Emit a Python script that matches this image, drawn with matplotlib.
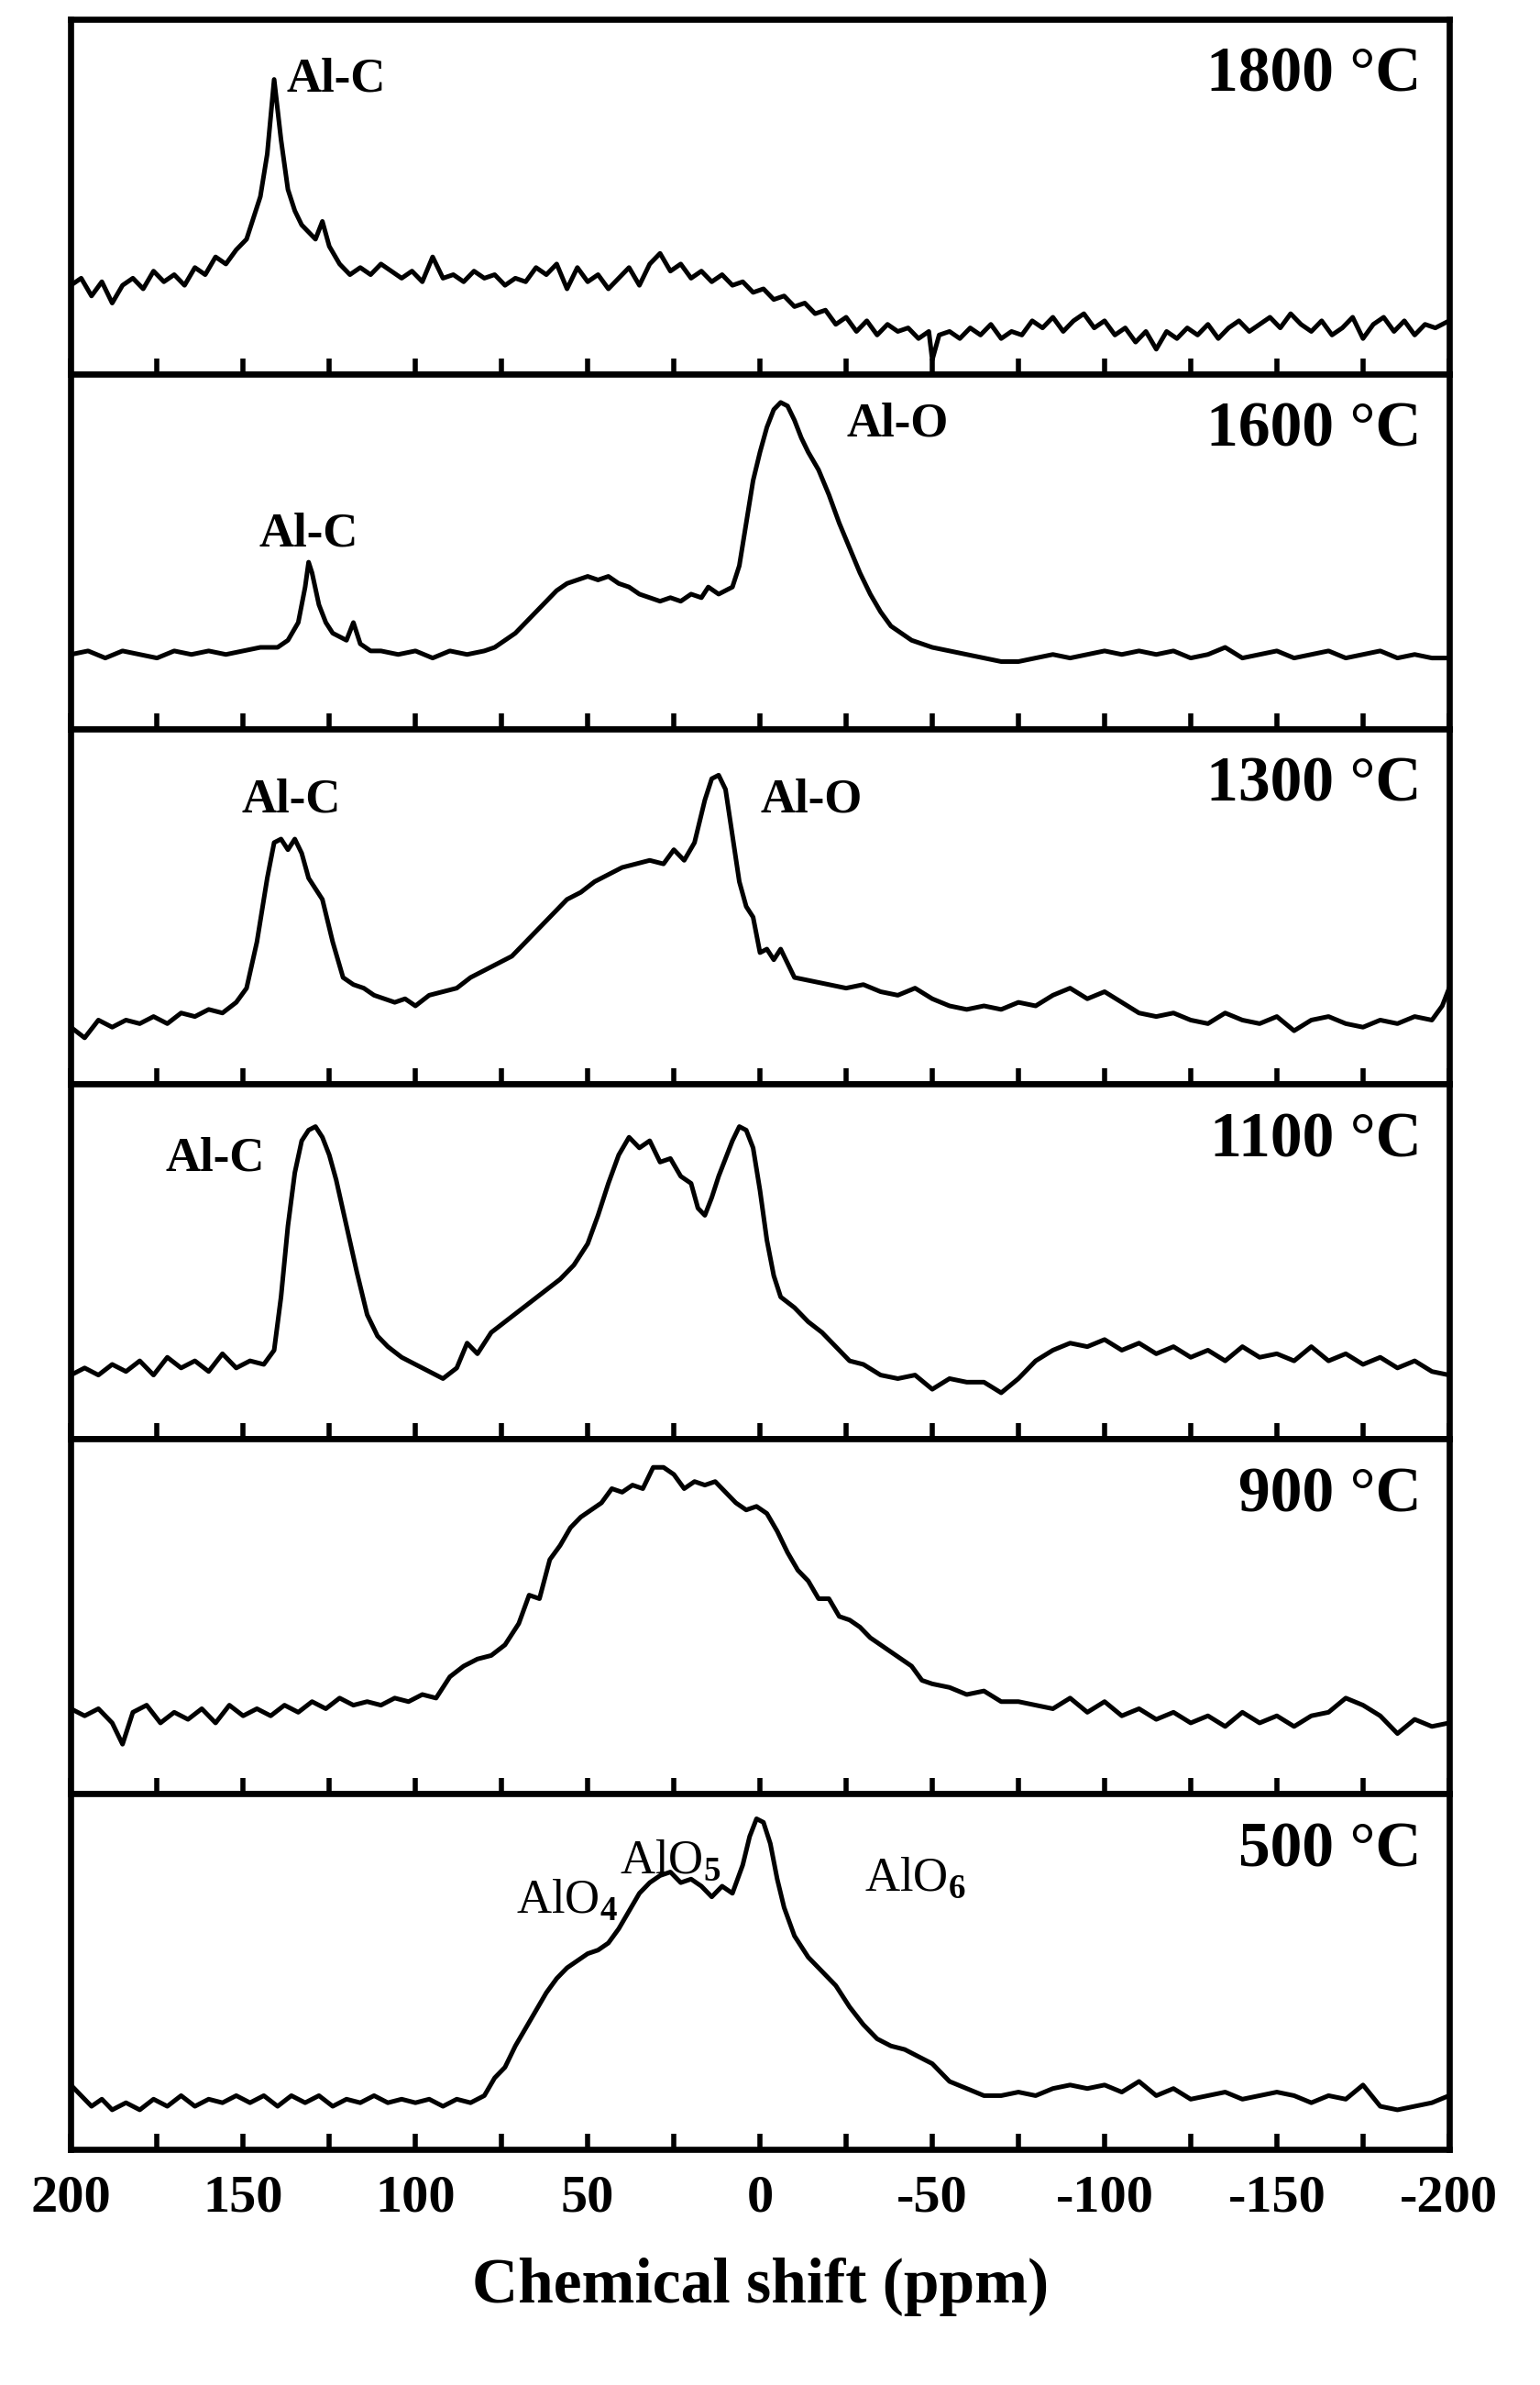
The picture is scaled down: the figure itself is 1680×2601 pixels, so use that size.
import matplotlib
matplotlib.use("Agg")
import matplotlib.pyplot as plt
import numpy as np

plt.rcParams["font.family"] = ["Liberation Serif", "DejaVu Serif"]
plt.rcParams["font.weight"] = "bold"
plt.rcParams["mathtext.fontset"] = "custom"
plt.rcParams["mathtext.rm"] = "Liberation Serif"
plt.rcParams["mathtext.bf"] = "Liberation Serif:bold"

# chemical shift (ppm) and relative intensity per panel (0..1 of panel height)
ppm_1800 = [200, 197, 194, 191, 188, 185, 182, 179, 176, 173, 170, 167, 164, 161, 158, 155, 152, 149, 147, 145, 143, 141, 139, 137, 135, 133, 131, 129, 127, 125, 122, 119, 116, 113, 110, 107, 104, 101, 98, 95, 92, 89, 86, 83, 80, 77, 74, 71, 68, 65, 62, 59, 56, 53, 50, 47, 44, 41, 38, 35, 32, 29, 26, 23, 20, 17, 14, 11, 8, 5, 2, -1, -4, -7, -10, -13, -16, -19, -22, -25, -28, -31, -34, -37, -40, -43, -46, -49, -50, -52, -55, -58, -61, -64, -67, -70, -73, -76, -79, -82, -85, -88, -91, -94, -97, -100, -103, -106, -109, -112, -115, -118, -121, -124, -127, -130, -133, -136, -139, -142, -145, -148, -151, -154, -157, -160, -163, -166, -169, -172, -175, -178, -181, -184, -187, -190, -193, -196, -200]
int_1800 = [0.25, 0.27, 0.22, 0.26, 0.20, 0.25, 0.27, 0.24, 0.29, 0.26, 0.28, 0.25, 0.30, 0.28, 0.33, 0.31, 0.35, 0.38, 0.44, 0.50, 0.62, 0.83, 0.66, 0.52, 0.46, 0.42, 0.40, 0.38, 0.43, 0.36, 0.31, 0.28, 0.30, 0.28, 0.31, 0.29, 0.27, 0.29, 0.26, 0.33, 0.27, 0.28, 0.26, 0.29, 0.27, 0.28, 0.25, 0.27, 0.26, 0.30, 0.28, 0.31, 0.24, 0.30, 0.26, 0.28, 0.24, 0.27, 0.30, 0.25, 0.31, 0.34, 0.29, 0.31, 0.27, 0.29, 0.26, 0.28, 0.25, 0.26, 0.23, 0.24, 0.21, 0.22, 0.19, 0.20, 0.17, 0.18, 0.14, 0.16, 0.12, 0.15, 0.11, 0.14, 0.12, 0.13, 0.10, 0.12, 0.04, 0.11, 0.12, 0.10, 0.13, 0.11, 0.14, 0.10, 0.12, 0.11, 0.15, 0.13, 0.16, 0.12, 0.15, 0.17, 0.13, 0.15, 0.11, 0.13, 0.09, 0.12, 0.07, 0.12, 0.10, 0.13, 0.11, 0.14, 0.10, 0.13, 0.15, 0.12, 0.14, 0.16, 0.13, 0.17, 0.14, 0.12, 0.15, 0.11, 0.13, 0.16, 0.10, 0.14, 0.16, 0.12, 0.15, 0.11, 0.14, 0.13, 0.15]

ppm_1600 = [200, 195, 190, 185, 180, 175, 170, 165, 160, 155, 150, 145, 140, 137, 134, 132, 131, 130, 128, 126, 124, 122, 120, 118, 116, 113, 110, 105, 100, 95, 90, 85, 80, 77, 74, 71, 68, 65, 62, 59, 56, 53, 50, 47, 44, 41, 38, 35, 32, 29, 26, 23, 20, 17, 15, 12, 10, 8, 6, 4, 2, 0, -2, -4, -6, -8, -10, -12, -14, -17, -20, -23, -26, -29, -32, -35, -38, -41, -44, -47, -50, -55, -60, -65, -70, -75, -80, -85, -90, -95, -100, -105, -110, -115, -120, -125, -130, -135, -140, -145, -150, -155, -160, -165, -170, -175, -180, -185, -190, -195, -200]
int_1600 = [0.21, 0.22, 0.20, 0.22, 0.21, 0.20, 0.22, 0.21, 0.22, 0.21, 0.22, 0.23, 0.23, 0.25, 0.30, 0.40, 0.47, 0.44, 0.35, 0.30, 0.27, 0.26, 0.25, 0.30, 0.24, 0.22, 0.22, 0.21, 0.22, 0.20, 0.22, 0.21, 0.22, 0.23, 0.25, 0.27, 0.30, 0.33, 0.36, 0.39, 0.41, 0.42, 0.43, 0.42, 0.43, 0.41, 0.40, 0.38, 0.37, 0.36, 0.37, 0.36, 0.38, 0.37, 0.40, 0.38, 0.39, 0.40, 0.46, 0.58, 0.70, 0.78, 0.85, 0.90, 0.92, 0.91, 0.87, 0.82, 0.78, 0.73, 0.66, 0.58, 0.51, 0.44, 0.38, 0.33, 0.29, 0.27, 0.25, 0.24, 0.23, 0.22, 0.21, 0.20, 0.19, 0.19, 0.20, 0.21, 0.20, 0.21, 0.22, 0.21, 0.22, 0.21, 0.22, 0.20, 0.21, 0.23, 0.20, 0.21, 0.22, 0.20, 0.21, 0.22, 0.20, 0.21, 0.22, 0.20, 0.21, 0.20, 0.20]

ppm_1300 = [200, 196, 192, 188, 184, 180, 176, 172, 168, 164, 160, 156, 152, 149, 146, 143, 141, 139, 137, 135, 133, 131, 129, 127, 124, 121, 118, 115, 112, 109, 106, 103, 100, 96, 92, 88, 84, 80, 76, 72, 68, 64, 60, 56, 52, 48, 44, 40, 36, 32, 28, 25, 22, 19, 16, 14, 12, 10, 8, 6, 4, 2, 0, -2, -4, -6, -10, -15, -20, -25, -30, -35, -40, -45, -50, -55, -60, -65, -70, -75, -80, -85, -90, -95, -100, -105, -110, -115, -120, -125, -130, -135, -140, -145, -150, -155, -160, -165, -170, -175, -180, -185, -190, -195, -198, -200]
int_1300 = [0.16, 0.13, 0.18, 0.16, 0.18, 0.17, 0.19, 0.17, 0.20, 0.19, 0.21, 0.20, 0.23, 0.27, 0.40, 0.58, 0.68, 0.69, 0.66, 0.69, 0.65, 0.58, 0.55, 0.52, 0.40, 0.30, 0.28, 0.27, 0.25, 0.24, 0.23, 0.24, 0.22, 0.25, 0.26, 0.27, 0.30, 0.32, 0.34, 0.36, 0.40, 0.44, 0.48, 0.52, 0.54, 0.57, 0.59, 0.61, 0.62, 0.63, 0.62, 0.66, 0.63, 0.68, 0.80, 0.86, 0.87, 0.83, 0.70, 0.57, 0.50, 0.47, 0.37, 0.38, 0.35, 0.38, 0.30, 0.29, 0.28, 0.27, 0.28, 0.26, 0.25, 0.27, 0.24, 0.22, 0.21, 0.22, 0.21, 0.23, 0.22, 0.25, 0.27, 0.24, 0.26, 0.23, 0.20, 0.19, 0.20, 0.18, 0.17, 0.20, 0.18, 0.17, 0.19, 0.15, 0.18, 0.19, 0.17, 0.16, 0.18, 0.17, 0.19, 0.18, 0.22, 0.27]

ppm_1100 = [200, 196, 192, 188, 184, 180, 176, 172, 168, 164, 160, 156, 152, 148, 144, 141, 139, 137, 135, 133, 131, 129, 127, 125, 123, 120, 117, 114, 111, 108, 104, 100, 96, 92, 88, 85, 82, 78, 74, 70, 66, 62, 58, 54, 50, 47, 44, 41, 38, 35, 32, 29, 26, 23, 20, 18, 16, 14, 12, 10, 8, 6, 4, 2, 0, -2, -4, -6, -10, -14, -18, -22, -26, -30, -35, -40, -45, -50, -55, -60, -65, -70, -75, -80, -85, -90, -95, -100, -105, -110, -115, -120, -125, -130, -135, -140, -145, -150, -155, -160, -165, -170, -175, -180, -185, -190, -195, -200]
int_1100 = [0.18, 0.20, 0.18, 0.21, 0.19, 0.22, 0.18, 0.23, 0.20, 0.22, 0.19, 0.24, 0.20, 0.22, 0.21, 0.25, 0.40, 0.60, 0.75, 0.84, 0.87, 0.88, 0.85, 0.80, 0.73, 0.60, 0.47, 0.35, 0.29, 0.26, 0.23, 0.21, 0.19, 0.17, 0.20, 0.27, 0.24, 0.30, 0.33, 0.36, 0.39, 0.42, 0.45, 0.49, 0.55, 0.63, 0.72, 0.80, 0.85, 0.82, 0.84, 0.78, 0.79, 0.74, 0.72, 0.65, 0.63, 0.68, 0.74, 0.79, 0.84, 0.88, 0.87, 0.82, 0.70, 0.56, 0.46, 0.40, 0.37, 0.33, 0.30, 0.26, 0.22, 0.21, 0.18, 0.17, 0.18, 0.14, 0.17, 0.16, 0.16, 0.13, 0.17, 0.22, 0.25, 0.27, 0.26, 0.28, 0.25, 0.27, 0.24, 0.26, 0.23, 0.25, 0.22, 0.26, 0.23, 0.24, 0.22, 0.26, 0.22, 0.24, 0.21, 0.23, 0.20, 0.22, 0.19, 0.18]

ppm_900 = [200, 196, 192, 188, 185, 182, 178, 174, 170, 166, 162, 158, 154, 150, 146, 142, 138, 134, 130, 126, 122, 118, 114, 110, 106, 102, 98, 94, 90, 86, 82, 78, 74, 70, 67, 64, 61, 58, 55, 52, 49, 46, 43, 40, 37, 34, 31, 28, 25, 22, 19, 16, 13, 10, 7, 4, 1, -2, -5, -8, -11, -14, -17, -20, -23, -26, -29, -32, -35, -38, -41, -44, -47, -50, -55, -60, -65, -70, -75, -80, -85, -90, -95, -100, -105, -110, -115, -120, -125, -130, -135, -140, -145, -150, -155, -160, -165, -170, -175, -180, -185, -190, -195, -200]
int_900 = [0.24, 0.22, 0.24, 0.20, 0.14, 0.23, 0.25, 0.20, 0.23, 0.21, 0.24, 0.20, 0.25, 0.22, 0.24, 0.22, 0.25, 0.23, 0.26, 0.24, 0.27, 0.25, 0.26, 0.25, 0.27, 0.26, 0.28, 0.27, 0.33, 0.36, 0.38, 0.39, 0.42, 0.48, 0.56, 0.55, 0.66, 0.70, 0.75, 0.78, 0.80, 0.82, 0.86, 0.85, 0.87, 0.86, 0.92, 0.92, 0.90, 0.86, 0.88, 0.87, 0.88, 0.85, 0.82, 0.80, 0.81, 0.79, 0.74, 0.68, 0.63, 0.60, 0.55, 0.55, 0.50, 0.49, 0.47, 0.44, 0.42, 0.40, 0.38, 0.36, 0.32, 0.31, 0.30, 0.28, 0.29, 0.26, 0.26, 0.25, 0.24, 0.27, 0.23, 0.26, 0.22, 0.24, 0.21, 0.23, 0.20, 0.22, 0.19, 0.23, 0.20, 0.22, 0.19, 0.22, 0.23, 0.27, 0.25, 0.22, 0.17, 0.21, 0.19, 0.20]

ppm_500 = [200, 197, 194, 191, 188, 184, 180, 176, 172, 168, 164, 160, 156, 152, 148, 144, 140, 136, 132, 128, 124, 120, 116, 112, 108, 104, 100, 96, 92, 88, 84, 80, 77, 74, 71, 68, 65, 62, 59, 56, 53, 50, 47, 44, 41, 38, 35, 32, 29, 26, 23, 20, 17, 14, 11, 8, 5, 3, 1, -1, -3, -5, -7, -10, -14, -18, -22, -26, -30, -34, -38, -42, -46, -50, -55, -60, -65, -70, -75, -80, -85, -90, -95, -100, -105, -110, -115, -120, -125, -130, -135, -140, -145, -150, -155, -160, -165, -170, -175, -180, -185, -190, -195, -200]
int_500 = [0.18, 0.15, 0.12, 0.14, 0.11, 0.13, 0.11, 0.14, 0.12, 0.15, 0.12, 0.14, 0.13, 0.15, 0.13, 0.15, 0.12, 0.15, 0.13, 0.15, 0.12, 0.14, 0.13, 0.15, 0.13, 0.14, 0.13, 0.14, 0.12, 0.14, 0.13, 0.15, 0.20, 0.23, 0.29, 0.34, 0.39, 0.44, 0.48, 0.51, 0.53, 0.55, 0.56, 0.58, 0.62, 0.67, 0.72, 0.75, 0.77, 0.78, 0.75, 0.76, 0.74, 0.71, 0.74, 0.72, 0.80, 0.88, 0.93, 0.92, 0.86, 0.76, 0.68, 0.60, 0.54, 0.50, 0.46, 0.40, 0.35, 0.31, 0.29, 0.28, 0.26, 0.24, 0.19, 0.17, 0.15, 0.15, 0.16, 0.15, 0.17, 0.18, 0.17, 0.18, 0.16, 0.19, 0.15, 0.17, 0.14, 0.15, 0.16, 0.14, 0.15, 0.16, 0.15, 0.13, 0.15, 0.14, 0.18, 0.12, 0.11, 0.12, 0.13, 0.15]

temps = ["1800 °C", "1600 °C", "1300 °C", "1100 °C", "900 °C", "500 °C"]
spectra = [(ppm_1800, int_1800), (ppm_1600, int_1600), (ppm_1300, int_1300),
           (ppm_1100, int_1100), (ppm_900, int_900), (ppm_500, int_500)]

# peak labels per panel: (text, ppm, height, weight)
peak_labels = [
    [("Al-C", 123, 0.83, "bold")],
    [("Al-O", -40, 0.86, "bold"), ("Al-C", 131, 0.55, "bold")],
    [("Al-C", 136, 0.80, "bold"), ("Al-O", -15, 0.80, "bold")],
    [("Al-C", 158, 0.79, "bold")],
    [],
    [("AlO$_\\mathrm{4}$", 56, 0.70, "normal"), ("AlO$_\\mathrm{5}$", 26, 0.81, "normal"),
     ("AlO$_\\mathrm{6}$", -45, 0.76, "normal")],
]

fig = plt.figure(figsize=(8.4, 13.005), dpi=200)
left, right, top, bottom = 0.046, 0.941, 0.992, 0.099
h = (top - bottom) / 6
for i, ((x, y), temp) in enumerate(zip(spectra, temps)):
    ax = fig.add_axes([left, top - (i + 1) * h, right - left, h])
    ax.plot(x, y, color="black", lw=1.8)
    ax.set_xlim(200, -200)
    ax.set_ylim(0, 1)
    ax.set_yticks([])
    ax.set_xticks(np.arange(200, -201, -50))
    ax.set_xticks(np.arange(175, -200, -50), minor=True)
    ax.tick_params(axis="x", which="both", direction="in", width=2, length=6)
    for s in ax.spines.values():
        s.set_linewidth(2.4)
    ax.text(0.98, 0.84, temp, transform=ax.transAxes, ha="right", va="center",
            fontsize=25, fontweight="bold")
    for txt, px, py, wt in peak_labels[i]:
        ax.text(px, py, txt, ha="center", va="center", fontsize=19, fontweight=wt)
    if i < 5:
        ax.set_xticklabels([])
    else:
        ax.set_xticklabels(["200", "150", "100", "50", "0", "-50", "-100", "-150", "-200"])
        ax.tick_params(axis="x", labelsize=21, pad=10)
        ax.set_xlabel("Chemical shift (ppm)", fontsize=25, fontweight="bold", labelpad=14)

fig.savefig("out.png", dpi=200)
